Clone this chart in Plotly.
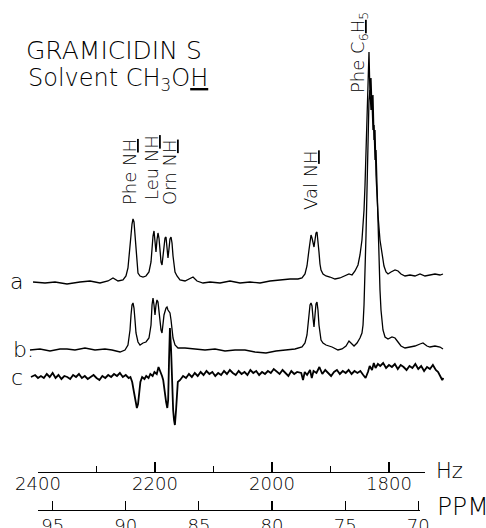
import plotly.graph_objects as go

W, H = 486, 528
FONT = "DejaVu Sans"

# ---------------- axis tick data ----------------
HZ_TICKS = [2400, 2200, 2000, 1800]
HZ_TICK_LABELS = ["2400", "2200", "2000", "1800"]
HZ_MINOR = [2300, 2100, 1900]
PPM_TICKS = [9.5, 9.0, 8.5, 8.0, 7.5, 7.0]
PPM_TICK_LABELS = ["95", "90", "85", "80", "75", "70"]
SPECTROMETER_MHZ = 250

# ---------------- spectrum a ----------------
a_hz = [2408.5, 2388.0, 2370.9, 2350.4, 2328.2, 2311.1, 2294.0, 2280.3, 2271.8, 2263.2,
        2254.7, 2249.6, 2246.2, 2242.7, 2241.0, 2239.3, 2237.6, 2235.9, 2234.2, 2232.5,
        2230.8, 2229.1, 2225.6, 2220.5, 2215.4, 2210.3, 2206.8, 2205.1, 2203.4, 2201.7,
        2200.0, 2198.3, 2196.6, 2194.9, 2193.2, 2191.5, 2189.7, 2188.0, 2186.3, 2184.6,
        2182.9, 2181.2, 2179.5, 2177.8, 2176.1, 2174.4, 2172.6, 2170.9, 2169.2, 2167.5,
        2165.8, 2162.4, 2157.3, 2148.7, 2140.2, 2135.0, 2128.2, 2117.9, 2106.0, 2088.9,
        2071.8, 2054.7, 2037.6, 2020.5, 2003.4, 1986.3, 1969.2, 1955.6, 1948.7, 1943.6,
        1940.2, 1936.8, 1935.0, 1933.3, 1931.6, 1929.9, 1928.2, 1926.5, 1924.8, 1923.1,
        1921.4, 1919.7, 1918.0, 1916.2, 1912.8, 1907.7, 1900.9, 1892.3, 1883.8, 1875.2,
        1868.4, 1863.2, 1858.1, 1853.0, 1849.6, 1846.2, 1844.4, 1842.7, 1841.0, 1839.3,
        1837.6, 1835.9, 1834.2, 1832.5, 1830.8, 1829.1, 1827.4, 1825.6, 1823.9, 1822.2,
        1820.5, 1818.8, 1815.4, 1812.0, 1808.6, 1805.1, 1801.7, 1796.6, 1789.7, 1784.6,
        1779.5, 1772.6, 1764.1, 1755.6, 1747.0, 1738.5, 1730.0, 1721.4, 1712.8, 1707.7]
a_int = [1, 0, 1, -1, 1, 2, 0, 2, 5, 2,
         3, 7, 15, 33, 48, 59, 64, 61, 48, 31,
         17, 10, 7, 6, 7, 11, 21, 35, 47, 52,
         43, 31, 43, 50, 45, 31, 21, 18, 27, 39,
         45, 46, 37, 25, 34, 44, 46, 40, 27, 17,
         11, 7, 3, 2, 4, 6, 2, 0, 1, 0,
         2, 0, 1, 0, 2, 3, 4, 4, 5, 9,
         17, 33, 43, 48, 45, 38, 36, 43, 50, 51,
         43, 31, 19, 13, 9, 7, 6, 4, 5, 7,
         9, 8, 12, 18, 28, 43, 55, 73, 98, 133,
         173, 213, 231, 188, 205, 173, 188, 143, 153, 108,
         83, 68, 43, 28, 17, 11, 9, 11, 13, 12,
         9, 7, 8, 7, 9, 7, 8, 9, 8, 9]

# ---------------- spectrum b ----------------
b_hz = [2413.7, 2396.6, 2379.5, 2362.4, 2350.4, 2336.8, 2319.7, 2302.6, 2285.5, 2273.5,
        2259.8, 2251.3, 2246.2, 2242.7, 2241.0, 2239.3, 2237.6, 2235.9, 2234.2, 2232.5,
        2229.1, 2225.6, 2220.5, 2215.4, 2210.3, 2206.8, 2205.1, 2203.4, 2201.7, 2200.0,
        2198.3, 2196.6, 2194.9, 2193.2, 2191.5, 2189.7, 2188.0, 2186.3, 2184.6, 2181.2,
        2179.5, 2177.8, 2174.4, 2172.6, 2170.9, 2169.2, 2165.8, 2160.7, 2148.7, 2131.6,
        2114.5, 2097.4, 2080.3, 2063.2, 2046.2, 2029.1, 2010.3, 1993.2, 1976.1, 1960.7,
        1948.7, 1943.6, 1940.2, 1936.8, 1935.0, 1933.3, 1931.6, 1929.9, 1928.2, 1926.5,
        1924.8, 1923.1, 1921.4, 1919.7, 1918.0, 1916.2, 1912.8, 1907.7, 1897.4, 1887.2,
        1880.3, 1873.5, 1868.4, 1865.0, 1859.8, 1854.7, 1849.6, 1846.2, 1844.4, 1842.7,
        1841.0, 1839.3, 1837.6, 1835.9, 1834.2, 1832.5, 1830.8, 1829.1, 1827.4, 1825.6,
        1823.9, 1822.2, 1820.5, 1818.8, 1817.1, 1815.4, 1813.7, 1812.0, 1810.3, 1806.8,
        1801.7, 1794.9, 1789.7, 1784.6, 1779.5, 1772.6, 1764.1, 1755.6, 1747.0, 1741.9,
        1735.1, 1730.0, 1721.4, 1712.8, 1707.7]
b_int = [0, 1, -1, 1, 1, 0, 2, 0, 1, 0,
         -2, 0, 5, 20, 35, 45, 47, 42, 30, 17,
         8, 5, 7, 8, 12, 25, 45, 52, 45, 35,
         45, 50, 48, 38, 27, 20, 17, 25, 35, 42,
         43, 40, 37, 30, 20, 12, 5, 2, 2, 1,
         0, 1, -1, 0, 0, -2, -3, -1, 0, 1,
         3, 7, 15, 35, 45, 47, 44, 32, 23, 35,
         46, 48, 40, 25, 15, 10, 7, 5, 3, 0,
         1, 4, 9, 7, 4, 7, 12, 17, 25, 45,
         75, 115, 160, 210, 250, 260, 240, 250, 220, 225,
         190, 200, 160, 125, 90, 60, 40, 28, 20, 13,
         11, 13, 12, 8, 4, 2, 3, 4, 6, 7,
         4, 3, 4, 3, 1]

# ---------------- spectrum c (difference) ----------------
c_hz = [2412, 2405, 2400, 2395, 2390, 2385, 2380, 2375, 2370, 2365,
        2360, 2355, 2350, 2345, 2340, 2335, 2330, 2325, 2320, 2315,
        2310, 2305, 2300, 2295, 2290, 2285, 2280, 2275, 2270, 2265,
        2260, 2255, 2250, 2245, 2242, 2239, 2236, 2233, 2231, 2229,
        2227, 2225, 2222, 2218, 2215, 2211, 2208, 2204, 2201, 2197,
        2194, 2191, 2188, 2186, 2184, 2181, 2179, 2177.5, 2176, 2174.5,
        2172.5, 2171, 2169, 2167.5, 2166, 2164, 2162, 2161, 2157, 2152,
        2147, 2142, 2137, 2132, 2127, 2122, 2117, 2112, 2107, 2102,
        2097, 2092, 2087, 2082, 2077, 2072, 2067, 2062, 2057, 2052,
        2047, 2042, 2037, 2032, 2027, 2022, 2017, 2012, 2007, 2002,
        1997, 1992, 1987, 1982, 1977, 1972, 1967, 1962, 1957, 1950,
        1947, 1944, 1940, 1935, 1932, 1929, 1924, 1919, 1914, 1909,
        1904, 1899, 1894, 1889, 1884, 1879, 1874, 1869, 1864, 1859,
        1854, 1849, 1844, 1840, 1836, 1833, 1829, 1826, 1823, 1819,
        1815, 1810, 1805, 1800, 1795, 1790, 1785, 1780, 1775, 1770,
        1765, 1760, 1755, 1750, 1745, 1740, 1735, 1730, 1725, 1720,
        1716, 1712, 1709, 1707]
c_int = [0, 2, -1, 1, -1, 3, 0, 4, -1, 2,
         -2, 1, 0, -2, 2, 0, 3, -1, 1, -2,
         0, 2, -1, -3, 1, -1, 2, 0, 3, 1,
         4, 0, 2, -1, 0, -5, -15, -26, -31, -27,
         -15, -5, 0, -2, 1, -1, 3, 1, 5, 3,
         10, 6, 1, -3, -13, -25, -31, -23, 17, 49,
         27, -13, -33, -43, -48, -33, -13, -5, -3, 1,
         -1, 3, 0, 4, 1, 5, 2, 6, 3, 5,
         1, 4, 2, 6, 3, 7, 4, 2, 6, 3,
         5, 2, 7, 4, 6, 2, 5, 3, 6, 4,
         8, 5, 3, 7, 4, 1, 6, 3, 5, 4,
         -3, 5, 2, 7, -1, 6, 4, 10, 3, 7,
         4, 1, 5, 7, 3, 6, 4, 7, 3, 6,
         4, 6, 2, -1, 5, 11, 7, 14, 9, 13,
         11, 14, 9, 12, 10, 13, 8, 12, 10, 7,
         11, 9, 13, 8, 11, 6, 10, 8, 12, 7,
         5, 0, -3, -1]

TRACE_NAMES = ["a", "b.", "c"]
PEAK_LABELS = ["Phe N<u>H</u>", "Leu N<u>H</u>", "Orn N<u>H</u>", "Val N<u>H</u>",
               "Phe C<sub>6</sub><u>H</u><sub>5</sub>"]
PEAK_LABEL_HZ = [2242.7, 2205.1, 2174.4, 1933.3, 1851.3]

# ---------------- layout geometry (pixels) ----------------
HZ_PER_PX = 200 / 117.0
HZ_LEFT = 2400 + 38 * HZ_PER_PX
HZ_RIGHT = 2400 - 448 * HZ_PER_PX
OFFSET = [245, 178, 151]
WIDTHS = [1.3, 1.3, 1.8]


def X(px):
    return px / W


def Y(py):
    return 1 - py / H


fig = go.Figure()
for xs, ys, off, lw in zip([a_hz, b_hz, c_hz], [a_int, b_int, c_int], OFFSET, WIDTHS):
    fig.add_trace(go.Scatter(x=xs, y=[v + off for v in ys], mode="lines",
                             line=dict(color="black", width=lw), hoverinfo="skip",
                             showlegend=False))

# invisible traces to create the two scale axes
fig.add_trace(go.Scatter(x=HZ_TICKS, y=[-50] * len(HZ_TICKS), xaxis="x2", yaxis="y",
                         mode="markers", marker=dict(opacity=0), hoverinfo="skip",
                         showlegend=False))
fig.add_trace(go.Scatter(x=PPM_TICKS, y=[-50] * len(PPM_TICKS), xaxis="x3", yaxis="y",
                         mode="markers", marker=dict(opacity=0), hoverinfo="skip",
                         showlegend=False))

tickfont = dict(family=FONT, size=18, color="black", weight=300)
hz_right_axis = 2400 - (425 - 38) * HZ_PER_PX
ppm_left = 2400 / SPECTROMETER_MHZ
ppm_right = (2400 - (420 - 38) * HZ_PER_PX) / SPECTROMETER_MHZ

fig.update_layout(
    width=W, height=H,
    margin=dict(l=0, r=0, t=0, b=0, pad=0, autoexpand=False),
    paper_bgcolor="white", plot_bgcolor="rgba(0,0,0,0)",
    showlegend=False,
    xaxis=dict(range=[HZ_LEFT, HZ_RIGHT], visible=False, domain=[0, 1], automargin=False),
    yaxis=dict(range=[0, H], visible=False, domain=[0, 1], automargin=False),
    xaxis2=dict(anchor="free", position=Y(472), domain=[X(38), X(425)],
                range=[2400, hz_right_axis], showline=True, linecolor="black",
                linewidth=1.2, ticks="inside", ticklen=10, tickwidth=1.2,
                tickcolor="black", tickvals=HZ_TICKS, ticktext=HZ_TICK_LABELS,
                tickfont=tickfont, showgrid=False, zeroline=False,
                ticklabelstandoff=-5, automargin=False,
                minor=dict(tickvals=HZ_MINOR, ticks="inside", ticklen=6,
                           tickwidth=1.2, tickcolor="black", showgrid=False)),
    xaxis3=dict(anchor="free", position=Y(510), domain=[X(38), X(420)],
                range=[ppm_left, ppm_right], showline=True, linecolor="black",
                linewidth=1.2, ticks="inside", ticklen=9, tickwidth=1.2,
                tickcolor="black", tickvals=PPM_TICKS, ticktext=PPM_TICK_LABELS,
                tickfont=tickfont, showgrid=False, zeroline=False,
                ticklabelstandoff=-1, automargin=False),
)


def label(text, px, py, size, xanchor="left", angle=0, xref="paper", xval=None):
    return dict(text=text, x=X(px) if xval is None else xval, y=Y(py),
                xref=xref, yref="paper", xanchor=xanchor, yanchor="middle",
                showarrow=False, textangle=angle, borderpad=0,
                font=dict(family=FONT, size=size, color="black", weight=300))


ann = [
    label("GRAMICIDIN S", 25, 50, 25),
    label("Solvent CH<sub>3</sub>O<u>H</u>", 27, 80, 24),
    label(TRACE_NAMES[0], 16, 281, 22, xanchor="center"),
    label(TRACE_NAMES[1], 12, 349, 22),
    label(TRACE_NAMES[2], 17, 377, 22, xanchor="center"),
    label("Hz", 435, 471, 21),
    label("PPM", 436, 506, 25),
]
peak_y = [172, 168, 172, 180, 52]
for t, hz, py in zip(PEAK_LABELS, PEAK_LABEL_HZ, peak_y):
    ann.append(label(t, 0, py, 18, xanchor="center", angle=-90, xref="x", xval=hz))
fig.update_layout(annotations=ann)

fig.write_html("out.html",
               config={"displayModeBar": False, "staticPlot": True},
               post_script="document.body.style.margin='0px';"
                           "document.body.style.overflow='hidden';")
